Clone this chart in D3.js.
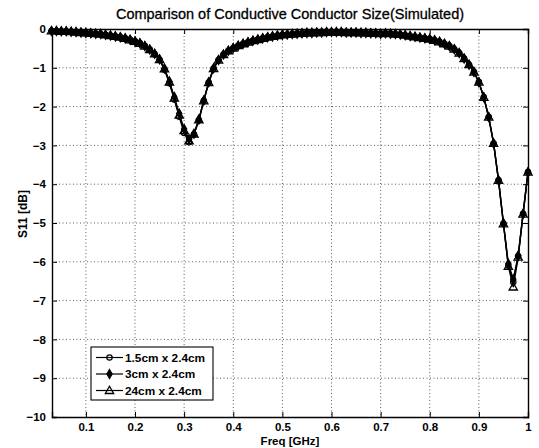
<!DOCTYPE html>
<html><head><meta charset="utf-8">
<script src="https://cdn.jsdelivr.net/npm/d3@7"></script>
<style>
html,body{margin:0;padding:0;background:#fff;}
svg{display:block;font-family:"Liberation Sans",Arial,sans-serif;}
</style></head>
<body>
<svg id="chart" width="539" height="448"></svg>
<script>
const freq = [0.03,0.04,0.05,0.06,0.07,0.08,0.09,0.10,0.11,0.12,0.13,0.14,0.15,0.16,0.17,0.18,0.19,0.20,0.21,0.22,0.23,0.24,0.25,0.26,0.27,0.28,0.29,0.30,0.31,0.32,0.33,0.34,0.35,0.36,0.37,0.38,0.39,0.40,0.41,0.42,0.43,0.44,0.45,0.46,0.47,0.48,0.49,0.50,0.51,0.52,0.53,0.54,0.55,0.56,0.57,0.58,0.59,0.60,0.61,0.62,0.63,0.64,0.65,0.66,0.67,0.68,0.69,0.70,0.71,0.72,0.73,0.74,0.75,0.76,0.77,0.78,0.79,0.80,0.81,0.82,0.83,0.84,0.85,0.86,0.87,0.88,0.89,0.90,0.91,0.92,0.93,0.94,0.95,0.96,0.97,0.98,0.99,1.00];

const s11_15cm = [-0.05,-0.05,-0.06,-0.06,-0.07,-0.08,-0.09,-0.10,-0.11,-0.12,-0.13,-0.15,-0.17,-0.19,-0.21,-0.24,-0.28,-0.32,-0.37,-0.44,-0.53,-0.65,-0.80,-1.05,-1.40,-1.82,-2.26,-2.68,-2.92,-2.72,-2.35,-1.85,-1.38,-1.02,-0.80,-0.66,-0.56,-0.49,-0.43,-0.38,-0.34,-0.30,-0.27,-0.24,-0.21,-0.19,-0.17,-0.15,-0.14,-0.13,-0.12,-0.11,-0.10,-0.10,-0.09,-0.09,-0.08,-0.08,-0.08,-0.08,-0.09,-0.09,-0.09,-0.10,-0.10,-0.11,-0.11,-0.12,-0.11,-0.12,-0.13,-0.14,-0.16,-0.18,-0.20,-0.22,-0.24,-0.26,-0.29,-0.33,-0.38,-0.44,-0.52,-0.62,-0.76,-0.92,-1.11,-1.37,-1.76,-2.27,-2.95,-3.90,-5.02,-6.10,-6.52,-5.86,-4.76,-3.69];

const s11_3cm = [-0.05,-0.05,-0.06,-0.06,-0.07,-0.08,-0.09,-0.10,-0.11,-0.12,-0.13,-0.15,-0.17,-0.19,-0.21,-0.24,-0.28,-0.32,-0.37,-0.44,-0.53,-0.64,-0.78,-1.02,-1.35,-1.75,-2.18,-2.58,-2.84,-2.70,-2.33,-1.84,-1.37,-1.01,-0.80,-0.66,-0.56,-0.49,-0.43,-0.38,-0.34,-0.30,-0.27,-0.24,-0.21,-0.19,-0.17,-0.15,-0.14,-0.13,-0.12,-0.11,-0.10,-0.10,-0.09,-0.09,-0.08,-0.08,-0.08,-0.08,-0.09,-0.09,-0.09,-0.10,-0.10,-0.11,-0.11,-0.12,-0.11,-0.12,-0.13,-0.14,-0.16,-0.18,-0.20,-0.22,-0.24,-0.26,-0.29,-0.33,-0.38,-0.44,-0.52,-0.62,-0.76,-0.92,-1.11,-1.37,-1.76,-2.27,-2.95,-3.90,-5.00,-6.05,-6.45,-5.84,-4.76,-3.69];

const s11_24cm = [-0.05,-0.05,-0.06,-0.06,-0.07,-0.08,-0.09,-0.10,-0.11,-0.12,-0.13,-0.15,-0.17,-0.19,-0.21,-0.24,-0.28,-0.32,-0.37,-0.44,-0.53,-0.64,-0.79,-1.03,-1.37,-1.78,-2.22,-2.62,-2.88,-2.71,-2.34,-1.85,-1.38,-1.02,-0.80,-0.66,-0.56,-0.49,-0.43,-0.38,-0.34,-0.30,-0.27,-0.24,-0.21,-0.19,-0.17,-0.15,-0.14,-0.13,-0.12,-0.11,-0.10,-0.10,-0.09,-0.09,-0.08,-0.08,-0.08,-0.08,-0.09,-0.09,-0.09,-0.10,-0.10,-0.11,-0.11,-0.12,-0.11,-0.12,-0.13,-0.14,-0.16,-0.18,-0.20,-0.22,-0.24,-0.26,-0.29,-0.33,-0.38,-0.44,-0.52,-0.62,-0.76,-0.92,-1.11,-1.37,-1.76,-2.27,-2.95,-3.90,-5.02,-6.12,-6.65,-5.88,-4.77,-3.69];

const seriesNames = ["1.5cm x 2.4cm","3cm x 2.4cm","24cm x 2.4cm"];
const xTicks = [0.1,0.2,0.3,0.4,0.5,0.6,0.7,0.8,0.9,1];
const yTicks = [0,-1,-2,-3,-4,-5,-6,-7,-8,-9,-10];
const titleText = "Comparison of Conductive Conductor Size(Simulated)";
const xLabel = "Freq [GHz]";
const yLabel = "S11 [dB]";

const svg = d3.select("#chart");
const L = 52, R = 528, T = 29, B = 417;
const x = d3.scaleLinear().domain([0.031, 1]).range([L, R]);
const y = d3.scaleLinear().domain([-10, 0]).range([B, T]);

// grid
const grid = svg.append("g").attr("stroke","#333").attr("stroke-width",0.8).attr("stroke-dasharray","1,2.5");
grid.selectAll("line.gx").data(xTicks.filter(d=>d<1)).join("line")
  .attr("x1",d=>x(d)).attr("x2",d=>x(d)).attr("y1",T).attr("y2",B);
grid.selectAll("line.gy").data(yTicks.filter(d=>d>-10 && d<0)).join("line")
  .attr("y1",d=>y(d)).attr("y2",d=>y(d)).attr("x1",L).attr("x2",R);

// axes with inward ticks
const fmtX = d => d===1 ? "1" : d3.format(".1f")(d);
const axB = svg.append("g").attr("transform",`translate(0,${B})`)
  .call(d3.axisBottom(x).tickValues(xTicks).tickSize(-5).tickPadding(6).tickFormat(fmtX));
const axT = svg.append("g").attr("transform",`translate(0,${T})`)
  .call(d3.axisTop(x).tickValues(xTicks).tickSize(-5).tickFormat(""));
const axL = svg.append("g").attr("transform",`translate(${L},0)`)
  .call(d3.axisLeft(y).tickValues(yTicks).tickSize(-5).tickPadding(6).tickFormat(d3.format("d")));
const axR = svg.append("g").attr("transform",`translate(${R},0)`)
  .call(d3.axisRight(y).tickValues(yTicks).tickSize(-5).tickFormat(""));
[axB,axT,axL,axR].forEach(a=>{
  a.select(".domain").attr("stroke","#000").attr("stroke-width",1.4);
  a.selectAll(".tick line").attr("stroke","#000").attr("stroke-width",1);
  a.selectAll("text").attr("font-family","'Liberation Sans',Arial,sans-serif")
    .attr("font-size",11.5).attr("font-weight","bold").attr("fill","#000");
});

// lines
const data = [s11_15cm, s11_3cm, s11_24cm];
const line = d3.line().x((d,i)=>x(freq[i])).y(d=>y(d));
const plot = svg.append("g");
data.forEach(arr=>{
  plot.append("path").datum(arr).attr("d",line)
    .attr("fill","none").attr("stroke","#000").attr("stroke-width",1.4);
});

const tri = d3.symbol().type(d3.symbolTriangle).size(30);
const dia = d3.symbol().type(d3.symbolDiamond).size(24);
function drawMarker(g, kind, cx, cy){
  if(kind===0){
    g.append("circle").attr("cx",cx).attr("cy",cy).attr("r",2.7)
      .attr("fill","none").attr("stroke","#000").attr("stroke-width",1.2);
  } else if(kind===1){
    g.append("path").attr("d",dia()).attr("transform",`translate(${cx},${cy})`)
      .attr("fill","#000").attr("stroke","#000").attr("stroke-width",1.2);
  } else {
    g.append("path").attr("d",tri()).attr("transform",`translate(${cx},${cy+0.6})`)
      .attr("fill","none").attr("stroke","#000").attr("stroke-width",1.3);
  }
}
data.forEach((arr,k)=>{
  const g = plot.append("g");
  arr.forEach((v,i)=>drawMarker(g,k,x(freq[i]),y(v)));
});

// title and labels
svg.append("text").attr("x",(L+R)/2).attr("y",19).attr("text-anchor","middle")
  .attr("font-size",14.5).attr("fill","#000").attr("stroke","#000").attr("stroke-width",0.3)
  .text(titleText);
svg.append("text").attr("x",(L+R)/2).attr("y",445).attr("text-anchor","middle")
  .attr("font-size",11.5).attr("font-weight","bold").attr("fill","#000").text(xLabel);
svg.append("text").attr("transform",`translate(27,${214}) rotate(-90)`).attr("text-anchor","middle")
  .attr("font-size",12).attr("font-weight","bold").attr("fill","#000").text(yLabel);

// legend
const lg = svg.append("g");
lg.append("rect").attr("x",91).attr("y",347).attr("width",122).attr("height",53)
  .attr("fill","#fff").attr("stroke","#000").attr("stroke-width",1.1);
seriesNames.forEach((name,k)=>{
  const ly = 357.5 + k*16.5;
  lg.append("line").attr("x1",96).attr("x2",123).attr("y1",ly).attr("y2",ly)
    .attr("stroke","#000").attr("stroke-width",1.2);
  drawMarker(lg,k,109.5,ly);
  lg.append("text").attr("x",125).attr("y",ly+4).attr("font-size",11.8)
    .attr("font-weight","bold").attr("fill","#000").text(name);
});
</script>
</body></html>
